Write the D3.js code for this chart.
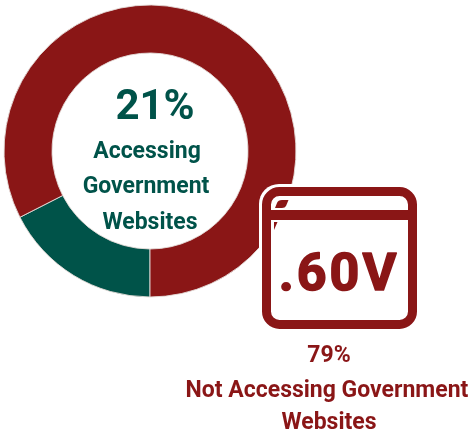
<!DOCTYPE html>
<html><head><meta charset="utf-8">
<script src="https://cdn.jsdelivr.net/npm/d3@7"></script>
<style>html,body{margin:0;padding:0;background:#fff}svg{display:block}text{font-family:Roboto,sans-serif;font-weight:700;text-anchor:middle}</style>
</head><body><div id="c"></div>
<script>
const sliceNames = ["Accessing Government Websites","Not Accessing Government Websites"];
const sliceShares = [17.5, 82.5];
const sliceColors = ["#04524a","#8a1518"];
const greenLines = ["Accessing","Government","Websites"];
const redLines = ["79%","Not Accessing Government","Websites"];
const greenPct = "21%";
const iconLabel = ".60V";

const W=472,H=434,maroon=sliceColors[1],green=sliceColors[0];
const svg=d3.select("#c").append("svg").attr("width",W).attr("height",H);
const defs=svg.append("defs");
defs.append("filter").attr("id","soft").append("feGaussianBlur").attr("stdDeviation",0.55);
const root=svg.append("g").attr("filter","url(#soft)");

const pie=d3.pie().sort(null).startAngle(Math.PI).endAngle(3*Math.PI);
const arc=d3.arc().innerRadius(98).outerRadius(146);
root.append("g").attr("transform","translate(150,151)")
 .selectAll("path").data(pie(sliceShares)).join("path")
 .attr("d",arc).attr("fill",(d,i)=>sliceColors[i]).attr("stroke","#e4dcd8").attr("stroke-width",0.9);

root.append("text").attr("x",155).attr("y",119).attr("font-size",42).attr("fill",green).text(greenPct);
const gx=[147,146,150],gy=[158,193,229];
root.selectAll("text.g").data(greenLines).join("text").attr("class","g")
 .attr("x",(d,i)=>gx[i]).attr("y",(d,i)=>gy[i]).attr("font-size",23).attr("fill",green).text(d=>d);

// browser-window icon
const ic=root.append("g");
ic.append("rect").attr("x",259).attr("y",184).attr("width",161).attr("height",148).attr("rx",20).attr("fill","#fff");
ic.append("rect").attr("x",266.5).attr("y",191.5).attr("width",146).attr("height",133).attr("rx",13)
 .attr("fill","#fff").attr("stroke",maroon).attr("stroke-width",9);
ic.append("rect").attr("x",266).attr("y",210).attr("width",147).attr("height",10).attr("fill",maroon);
ic.append("path").attr("d","M275 208 L277 203 Q278 200 282 200 L288.500 200 L286 206 Q285 208 282 208Z").attr("fill",maroon);
ic.append("path").attr("d","M274 222 L277.500 222 L274 230Z").attr("fill",maroon);
ic.append("text").attr("x",339).attr("y",289.500).attr("font-size",52)
 .attr("letter-spacing",3).attr("stroke",maroon).attr("stroke-width",1.6).attr("stroke-linejoin","round")
 .attr("fill",maroon).text(iconLabel);

const rx=[329,327,329],ry=[362,397,429];
root.selectAll("text.r").data(redLines).join("text").attr("class","r")
 .attr("x",(d,i)=>rx[i]).attr("y",(d,i)=>ry[i]).attr("font-size",23).attr("fill",maroon).text(d=>d);
</script></body></html>
